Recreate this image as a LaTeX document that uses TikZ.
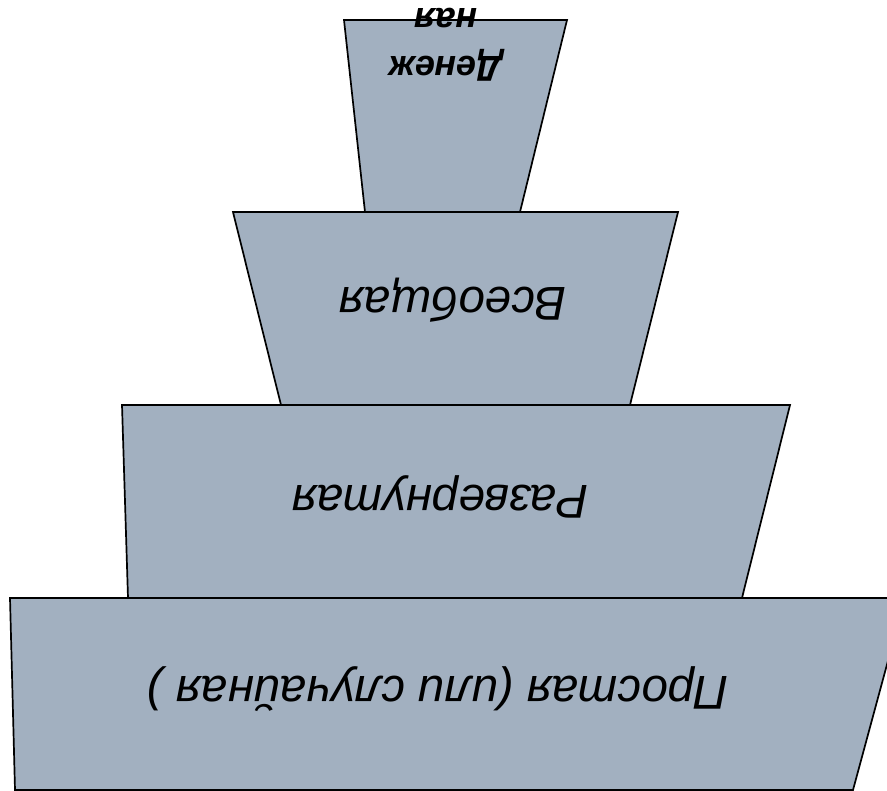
\documentclass[tikz,border=0pt]{standalone}
\usepackage{fontspec}
\setmainfont{Liberation Sans}
\definecolor{tierfill}{RGB}{162,176,192}
\tikzset{
  tier/.style={fill=tierfill, draw=black, line width=1.7pt, line join=miter},
  tierlabel/.style={rotate=180, inner sep=0pt, font=\fontsize{47.5}{57}\selectfont\itshape},
  toplabel/.style={rotate=180, inner sep=0pt, align=center, font=\fontsize{36}{48}\selectfont\bfseries\itshape}
}
\begin{document}
\begin{tikzpicture}[x=1pt,y=-1pt]
\useasboundingbox (0,0) rectangle (887,791);
\clip (0,0) rectangle (887,791);
% tiers
\draw[tier] (344,20) -- (567,20) -- (520,212) -- (365,212) -- cycle;
\draw[tier] (233,212) -- (678,212) -- (630,405) -- (281,405) -- cycle;
\draw[tier] (122,405) -- (790,405) -- (742,598) -- (128,598) -- cycle;
\draw[tier] (10,598) -- (905,598) -- (853,790) -- (15,790) -- cycle;
% labels
\node[toplabel] (t1) at (446,45) {Денеж\\ная};
\node[tierlabel] (t2) at (453,300) {Всеобщая};
\node[tierlabel] (t3) at (440,497) {Развернутая};
\node[tierlabel] (t4) at (438,689) {Простая (или случайная )};
\end{tikzpicture}
\end{document}
